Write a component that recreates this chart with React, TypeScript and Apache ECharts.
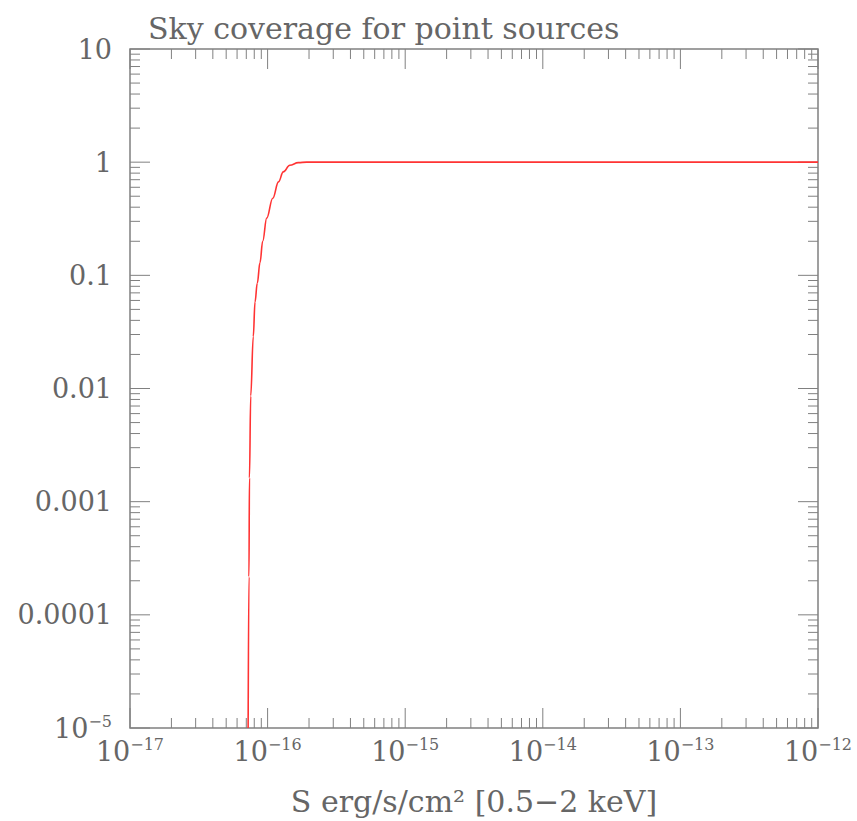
import React, { useEffect, useRef } from "react";
import * as echarts from "echarts";

// Curve: flux S [erg/s/cm^2] vs sky coverage fraction
const fluxValues = [
  7.22e-17, 7.32e-17, 7.38e-17, 7.54e-17, 7.87e-17, 8.1e-17, 8.41e-17, 8.81e-17, 9.21e-17,
  9.85e-17, 1.09e-16, 1.2e-16, 1.3e-16, 1.45e-16, 1.67e-16, 1.92e-16, 1e-15, 1e-14, 1e-13, 1e-12,
];
const coverageValues = [
  1e-5, 2.17e-4, 1.62e-3, 8.6e-3, 0.0288, 0.058, 0.085, 0.13, 0.2,
  0.32, 0.48, 0.67, 0.82, 0.94, 0.99, 1.0, 1.0, 1.0, 1.0, 1.0,
];

const xDecades = [-17, -16, -15, -14, -13, -12];
const yDecades = [-5, -4, -3, -2, -1, 0, 1];
const yTickLabels: Record<string, string> = {
  "1": "{b|10}",
  "0": "{b|1}",
  "-1": "{b|0.1}",
  "-2": "{b|0.01}",
  "-3": "{b|0.001}",
  "-4": "{b|0.0001}",
  "-5": "{b|10}{sup|−5}",
};

const titleText = "Sky coverage for point sources";
const xAxisName = "S erg/s/cm² [0.5−2 keV]";

const FONT = "DejaVu Serif";
const TEXT_COLOR = "#666";
const FRAME_COLOR = "#808080";

export default function App() {
  const ref = useRef<HTMLDivElement>(null);
  useEffect(() => {
    if (!ref.current) return;
    const chart = echarts.init(ref.current, undefined, { renderer: "svg" });

    // tick marks: [x, y, isMajor, axis(0=x,1=y)]
    const ticks: number[][] = [];
    xDecades.forEach((d, i) => {
      ticks.push([Math.pow(10, d), 1, 1, 0]);
      if (i < xDecades.length - 1)
        for (let m = 2; m <= 9; m++) ticks.push([m * Math.pow(10, d), 1, 0, 0]);
    });
    yDecades.forEach((d, i) => {
      ticks.push([1e-15, Math.pow(10, d), 1, 1]);
      if (i < yDecades.length - 1)
        for (let m = 2; m <= 9; m++) ticks.push([1e-15, m * Math.pow(10, d), 0, 1]);
    });

    const lineData = fluxValues.map((x, i) => [x, coverageValues[i]]);
    const rich = {
      b: { fontFamily: FONT, fontSize: 27, color: TEXT_COLOR, lineHeight: 30 },
      sup: { fontFamily: FONT, fontSize: 16, color: TEXT_COLOR, verticalAlign: "top" as const, lineHeight: 30, padding: [0, 0, 12, 0] },
    };

    chart.setOption({
      animation: false,
      title: {
        text: titleText,
        left: 143,
        top: 8,
        textStyle: { fontFamily: FONT, fontSize: 30, fontWeight: "normal", color: TEXT_COLOR },
      },
      grid: {
        left: 130,
        top: 49,
        width: 688,
        height: 687,
        show: true,
        borderColor: FRAME_COLOR,
        borderWidth: 1.5,
        backgroundColor: "transparent",
      },
      xAxis: {
        type: "log",
        logBase: 10,
        min: 1e-17,
        max: 1e-12,
        splitLine: { show: false },
        axisLine: { show: false },
        axisTick: { show: false },
        name: xAxisName,
        nameLocation: "middle",
        nameGap: 58,
        nameTextStyle: { fontFamily: FONT, fontSize: 30, color: TEXT_COLOR },
        axisLabel: {
          margin: 8,
          formatter: (v: number) => {
            const e = Math.round(Math.log10(v));
            return `{b|10}{sup|−${-e}}`;
          },
          rich,
        },
      },
      yAxis: {
        type: "log",
        logBase: 10,
        min: 1e-5,
        max: 10,
        splitLine: { show: false },
        axisLine: { show: false },
        axisTick: { show: false },
        axisLabel: {
          margin: 18,
          formatter: (v: number) => {
            const e = Math.round(Math.log10(v));
            return yTickLabels[String(e)] || "";
          },
          rich,
        },
      },
      series: [
        {
          type: "custom",
          silent: true,
          data: ticks,
          renderItem: (params: any, api: any) => {
            const cs = params.coordSys;
            const major = api.value(2) === 1;
            const axis = api.value(3);
            const len = major ? 20 : 10;
            const style = { stroke: FRAME_COLOR, lineWidth: 1 };
            const p = api.coord([api.value(0), api.value(1)]);
            if (axis === 0) {
              const x = p[0];
              return {
                type: "group",
                children: [
                  { type: "line", shape: { x1: x, y1: cs.y + cs.height, x2: x, y2: cs.y + cs.height - len }, style },
                  { type: "line", shape: { x1: x, y1: cs.y, x2: x, y2: cs.y + len }, style },
                ],
              };
            }
            const y = p[1];
            return {
              type: "group",
              children: [
                { type: "line", shape: { x1: cs.x, y1: y, x2: cs.x + len, y2: y }, style },
                { type: "line", shape: { x1: cs.x + cs.width, y1: y, x2: cs.x + cs.width - len, y2: y }, style },
              ],
            };
          },
        },
        {
          type: "line",
          data: lineData,
          showSymbol: false,
          smooth: 0.4,
          smoothMonotone: "x",
          lineStyle: { color: "#ff3333", width: 1.6 },
          z: 5,
        },
      ],
    });
    return () => chart.dispose();
  }, []);
  return <div ref={ref} style={{ width: 857, height: 821, position: "absolute", left: 0, top: 0 }} />;
}
